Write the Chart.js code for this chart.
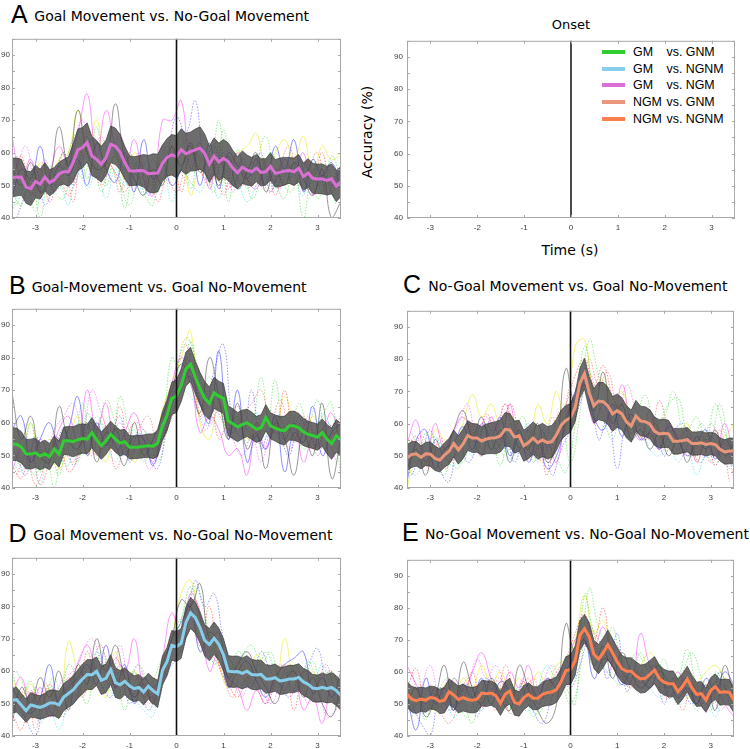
<!DOCTYPE html>
<html>
<head>
  <title>Decoding accuracy around onset</title>
  <script src="https://cdn.jsdelivr.net/npm/chart.js"></script>
  <style>
    body {
      margin: 0;
      width: 750px;
      height: 749px;
      position: relative;
      overflow: hidden;
      background: #ffffff;
      font-family: 'DejaVu Sans', sans-serif;
      color: #000000;
    }
    canvas { position: absolute; }
    .letter {
      position: absolute;
      font-family: 'Liberation Sans', Arial, sans-serif;
      font-size: 25px;
      line-height: 25px;
    }
    .title {
      position: absolute;
      font-size: 14px;
      line-height: 14px;
      white-space: nowrap;
    }
    .centered {
      position: absolute;
      white-space: nowrap;
      transform: translate(-50%, -50%);
    }
    #legend {
      position: absolute;
      left: 602px;
      top: 44px;
      font-family: 'Liberation Sans', Arial, sans-serif;
      font-size: 12.4px;
    }
    .row { display: flex; align-items: center; height: 16.6px; white-space: pre; }
    .swatch { width: 23px; height: 4px; margin-right: 8px; }
    .lead { display: inline-block; width: 33.5px; }
  </style>
</head>
<body>
  <div class="centered" style="left:571px; top:24px; font-size:13px;">Onset</div>
  <div class="centered" style="left:367px; top:132px; font-size:14px; transform: translate(-50%, -50%) rotate(-90deg);">Accuracy (%)</div>
  <div class="centered" style="left:570px; top:250px; font-size:14px;">Time (s)</div>
  <div id="legend"></div>

  <script>
    // time axis (s)
    const tMean = [-3.5,-3.4,-3.3,-3.2,-3.1,-3.0,-2.9,-2.8,-2.7,-2.6,
      -2.5,-2.4,-2.3,-2.2,-2.1,-2.0,-1.9,-1.8,-1.7,-1.6,
      -1.5,-1.4,-1.3,-1.2,-1.1,-1.0,-0.9,-0.8,-0.7,-0.6,
      -0.5,-0.4,-0.3,-0.2,-0.1,0.0,0.1,0.2,0.3,0.4,
      0.5,0.6,0.7,0.8,0.9,1.0,1.1,1.2,1.3,1.4,
      1.5,1.6,1.7,1.8,1.9,2.0,2.1,2.2,2.3,2.4,
      2.5,2.6,2.7,2.8,2.9,3.0,3.1,3.2,3.3,3.4,
      3.5];
    const tSubj = [-3.5,-3.3,-3.1,-2.9,-2.7,-2.5,-2.3,-2.1,-1.9,-1.7,
      -1.5,-1.3,-1.1,-0.9,-0.7,-0.5,-0.3,-0.1,0.1,0.3,
      0.5,0.7,0.9,1.1,1.3,1.5,1.7,1.9,2.1,2.3,
      2.5,2.7,2.9,3.1,3.3,3.5];
    const tSubj2 = [-3.4,-3.2,-3.0,-2.8,-2.6,-2.4,-2.2,-2.0,-1.8,-1.6,
      -1.4,-1.2,-1.0,-0.8,-0.6,-0.4,-0.2,0.0,0.2,0.4,
      0.6,0.8,1.0,1.2,1.4,1.6,1.8,2.0,2.2,2.4,
      2.6,2.8,3.0,3.2,3.4];
    const xTicks = [-3, -2, -1, 0, 1, 2, 3];
    const yTicks = [40, 45, 50, 55, 60, 65, 70, 75, 80, 85, 90, 95];

    // group mean accuracy (%)
    const meanA = [52.4,52.6,52.5,49.5,49.0,51.2,50.4,52.6,50.8,51.7,
      53.5,54.2,54.2,57.0,60.9,61.6,63.2,59.0,58.0,56.5,
      58.5,62.6,62.0,60.2,57.0,54.5,54.4,54.6,54.5,53.6,
      53.7,53.8,56.8,58.6,59.4,58.8,61.0,59.7,60.4,60.9,
      61.5,59.8,56.5,59.0,57.2,58.3,57.3,55.3,53.9,55.6,
      54.7,54.2,55.3,54.0,54.2,55.8,53.7,54.0,54.4,54.6,
      54.2,55.3,52.7,53.8,52.2,52.0,52.0,51.5,52.0,49.8,
      51.2];
    const meanB = [53.5,53.4,52.5,50.4,50.4,50.8,49.8,50.5,49.6,52.0,
      50.4,54.5,54.5,54.2,54.8,55.2,55.0,57.0,54.8,53.0,
      54.5,56.5,55.0,53.8,54.2,52.5,52.5,52.6,52.8,53.0,
      52.8,53.7,59.0,62.4,67.5,68.2,71.5,76.5,78.0,74.0,
      70.5,67.5,66.0,69.2,68.2,67.5,60.6,59.7,58.7,59.5,
      60.0,59.1,58.0,58.5,61.6,59.1,58.4,57.8,57.6,59.1,
      59.1,58.5,57.2,56.5,56.1,55.6,57.0,55.0,53.6,56.0,
      54.8];
    const meanC = [49.4,50.4,50.6,49.5,50.6,50.5,49.2,48.6,50.2,51.4,
      53.8,51.8,53.7,56.3,55.5,55.5,54.6,55.2,55.5,55.6,
      56.2,58.2,58.0,55.8,56.2,53.1,54.1,55.5,54.1,54.9,
      54.1,54.4,56.5,59.5,61.0,61.8,65.0,72.5,75.5,69.5,
      65.5,67.0,66.8,65.5,63.0,64.0,63.0,60.5,59.2,62.4,
      60.8,60.6,59.8,57.6,56.8,57.0,56.8,54.5,54.5,54.7,
      55.0,53.8,53.8,54.0,53.5,53.8,53.5,52.0,51.2,51.5,
      51.5];
    const meanD = [51.0,51.2,49.5,47.8,49.6,49.2,48.8,49.4,50.2,50.2,
      49.6,52.0,53.1,54.2,56.0,57.6,59.0,58.9,60.0,57.2,
      57.8,60.5,56.5,55.8,56.9,55.5,54.6,55.0,53.6,55.4,
      54.0,53.0,60.2,63.0,68.0,67.6,68.6,75.0,78.0,76.5,
      73.5,69.5,68.2,70.2,68.3,65.0,60.0,59.8,59.9,59.3,
      60.0,59.0,58.8,59.0,57.6,57.6,58.0,57.0,57.2,57.6,
      57.6,58.1,56.7,56.0,54.8,54.6,55.0,54.6,55.0,54.0,
      52.5];
    const meanE = [53.0,51.5,51.0,51.5,51.2,52.0,51.8,50.8,51.2,53.8,
      52.8,51.4,52.0,51.4,51.2,51.5,53.4,53.2,53.4,52.6,
      50.2,53.0,54.0,50.5,50.0,52.0,53.0,51.8,51.8,53.0,
      53.5,53.7,54.5,57.0,60.4,60.7,63.5,71.4,73.5,71.0,
      65.5,64.0,66.0,68.5,66.0,63.2,61.0,60.2,60.2,58.8,
      57.8,58.0,59.2,60.6,58.0,56.8,56.3,56.3,53.8,55.5,
      57.8,55.0,53.0,53.2,51.2,54.2,55.4,53.6,53.8,53.6,
      51.2];

    // half width of the shaded band
    const semA = [6.0,5.8,5.5,5.0,5.2,5.0,4.6,4.4,4.0,3.8,
      3.6,3.8,4.5,5.8,6.4,6.2,6.0,6.0,5.8,5.5,
      5.4,5.6,5.6,5.4,5.0,4.6,4.4,4.5,5.0,5.6,
      6.0,5.8,5.6,5.8,6.2,6.5,6.4,6.3,6.0,6.4,
      6.5,6.0,5.6,5.6,5.8,5.8,5.8,5.4,5.0,5.0,
      4.6,4.4,4.2,4.2,4.0,4.2,4.2,4.4,4.2,4.0,
      4.2,4.2,4.2,4.4,4.6,4.5,4.6,4.4,4.6,4.8,
      4.6];
    const semB = [5.0,5.0,4.8,4.5,4.6,4.5,4.2,4.2,4.0,4.0,
      4.0,4.2,4.4,4.6,4.6,4.5,4.5,4.6,4.4,4.2,
      4.2,4.0,4.0,4.0,3.8,3.6,3.5,3.5,3.5,3.6,
      3.8,4.0,4.4,4.8,5.0,5.0,5.0,5.2,5.2,5.0,
      5.0,5.2,5.0,4.8,4.6,4.6,4.6,4.6,4.5,4.4,
      4.2,4.2,4.0,4.0,4.0,4.0,4.0,4.2,4.4,4.4,
      4.5,4.4,4.2,4.0,4.0,4.0,4.2,4.5,4.8,5.0,
      5.0];
    const semC = [4.0,4.0,3.8,3.6,3.6,3.8,3.8,3.6,3.8,4.0,
      4.2,4.4,4.6,4.6,4.5,4.4,4.4,4.6,4.8,5.0,
      5.0,5.2,5.2,5.0,4.8,4.8,5.0,5.0,5.2,5.2,
      5.0,5.0,4.8,4.6,4.6,4.4,4.4,4.6,4.8,5.0,
      5.4,5.8,6.0,5.8,5.4,5.2,5.0,5.0,5.0,4.8,
      4.6,4.6,4.5,4.4,4.4,4.4,4.2,4.0,4.0,3.8,
      3.8,3.6,3.6,3.6,3.6,3.5,3.5,3.6,3.8,4.0,
      4.0];
    const semD = [4.0,3.8,3.6,3.6,3.8,3.6,3.6,3.8,4.0,4.0,
      4.2,4.2,4.2,4.4,4.4,4.6,4.6,4.6,4.4,4.4,
      4.4,4.6,4.6,4.4,4.2,4.2,4.0,4.0,4.0,4.0,
      4.0,4.2,4.4,4.4,4.6,4.6,4.6,4.8,4.8,4.8,
      4.8,4.8,5.0,5.0,5.0,5.0,4.8,4.8,4.8,4.8,
      4.8,4.6,4.6,4.4,4.4,4.2,4.2,4.2,4.2,4.2,
      4.2,4.2,4.2,4.2,4.2,4.2,4.4,4.4,4.6,4.6,
      4.6];
    const semE = [4.0,4.0,4.0,3.8,3.8,3.6,3.6,3.8,4.0,4.0,
      4.0,4.2,4.2,4.0,4.0,4.0,4.0,4.0,3.8,3.8,
      3.8,4.0,4.0,4.0,3.8,3.8,3.6,3.6,3.6,3.8,
      4.0,4.0,4.0,4.2,4.4,4.6,4.6,4.6,4.4,4.4,
      4.4,4.6,4.6,4.6,4.4,4.4,4.2,4.2,4.2,4.4,
      4.4,4.4,4.4,4.2,4.2,4.0,4.0,4.0,4.0,4.0,
      4.0,4.0,3.8,3.8,3.8,4.0,4.0,4.0,4.0,4.0,
      4.0];

    // single-subject traces on tSubj, one per row
    const subjA = [
      [55,50,57,48,52,68,56,73,60,55,57,75,58,52,47,55,50,62,56,63,54,58,50,59,49,54,60,48,55,50,57,52,47,55,40,45],
      [50,59,47,55,45,52,47,55,65,52,57,54,48,55,50,58,52,62,48,60,55,50,62,49,57,52,50,58,47,55,50,57,52,60,48,55],
      [48,44,54,40,56,49,60,66,52,68,50,59,43,57,48,44,62,55,66,49,62,51,70,45,61,49,57,65,52,46,57,40,55,48,59,52],
      [46,55,52,62,50,56,53,58,50,63,55,51,60,48,64,52,57,50,55,62,50,63,49,60,56,52,58,50,62,55,64,48,58,53,57,49],
      [42,49,45,52,47,51,44,57,49,54,46,55,50,58,47,53,56,45,55,51,48,53,46,58,52,45,50,55,49,56,52,47,58,50,55,48],
      [65,52,58,48,54,62,57,66,78,59,73,62,55,64,52,47,70,70,76,55,63,49,58,54,60,52,49,56,51,58,54,60,47,53,50,56],
      [58,54,50,57,52,58,60,73,60,70,55,59,52,60,55,50,58,53,62,47,57,59,51,56,60,62,66,55,60,64,58,65,53,62,58,60]
    ];
    const subjB = [
      [69,55,62,50,48,65,55,52,60,48,57,53,47,60,50,55,62,70,78,72,63,80,68,55,66,52,57,46,60,55,44,57,50,66,43,55],
      [47,43,52,41,48,55,45,49,57,50,59,46,53,60,58,52,55,63,70,76,62,70,55,61,65,58,56,60,57,70,55,62,52,58,55,63],
      [53,47,60,45,52,44,57,48,63,57,67,60,52,58,48,55,60,80,75,85,70,74,66,58,62,54,60,57,73,55,60,52,56,62,66,42],
      [58,62,48,55,60,52,58,68,50,60,53,58,50,56,55,47,58,68,72,74,66,60,82,55,70,48,56,52,62,45,57,54,65,50,57,60],
      [48,45,51,41,55,50,47,60,52,62,55,48,57,52,58,50,56,65,70,68,62,59,64,57,61,58,63,55,59,62,58,60,56,63,58,53],
      [45,52,48,55,50,58,62,54,70,58,66,51,57,63,55,48,60,72,80,74,57,62,58,50,52,44,60,52,58,55,60,48,56,58,63,52],
      [57,52,60,48,55,46,53,62,50,56,48,58,55,48,52,50,64,72,80,88,60,55,66,58,62,55,60,57,58,68,60,54,62,57,56,60]
    ];
    const subjC = [
      [46,52,44,55,50,58,64,56,62,52,58,48,56,52,60,48,54,77,66,72,64,76,60,66,55,58,52,57,50,55,48,56,52,58,50,54],
      [52,56,48,53,46,50,55,60,52,58,53,66,58,50,55,44,62,66,75,80,72,78,68,62,57,60,55,67,58,52,56,50,55,47,54,43],
      [55,48,57,50,44,53,48,58,50,55,47,60,52,56,48,58,50,45,60,84,70,62,55,66,58,62,56,60,66,68,58,62,55,66,57,52],
      [42,55,58,46,52,54,59,52,60,56,62,50,58,48,55,46,50,60,70,74,62,58,66,56,63,55,57,52,59,55,50,54,58,49,55,50],
      [48,44,52,56,50,47,55,50,58,52,56,49,54,60,52,58,55,62,66,72,65,68,62,58,55,60,52,50,55,48,52,44,50,47,52,46],
      [54,61,48,60,52,58,62,56,50,62,55,66,52,58,50,54,48,62,68,72,60,66,58,72,60,55,64,52,60,55,58,48,54,50,60,48],
      [40,50,47,58,55,52,60,69,62,66,60,63,56,52,66,60,70,58,84,86,70,74,66,70,60,56,62,58,52,55,60,48,57,54,56,60]
    ];
    const subjD = [
      [44,55,50,58,52,60,48,62,56,70,60,68,58,52,56,50,62,70,82,80,87,70,72,58,62,66,60,55,50,57,60,52,58,50,46,56],
      [47,42,54,48,56,50,58,52,66,58,62,55,60,52,58,50,55,72,66,76,68,80,62,56,52,58,55,50,56,62,48,60,55,58,60,52],
      [60,52,57,48,55,50,62,57,50,64,55,58,48,60,52,57,64,68,76,86,74,66,70,58,66,62,58,66,60,55,62,58,63,56,60,54],
      [55,50,47,52,62,50,55,58,62,56,68,55,62,50,58,55,60,70,75,80,66,72,68,55,60,63,57,52,58,62,64,66,53,58,52,60],
      [50,46,52,44,48,42,52,60,56,66,58,52,56,52,48,46,62,66,72,78,70,68,64,60,57,55,62,59,55,60,54,58,56,62,55,50],
      [53,58,48,55,46,52,56,62,68,60,57,64,60,70,55,52,64,78,70,84,77,60,66,58,55,48,54,50,58,54,60,48,52,44,55,50],
      [58,52,56,50,54,46,69,60,54,58,52,66,56,60,52,56,58,70,84,88,76,72,62,55,63,57,65,60,56,70,58,55,60,54,58,56]
    ];
    const subjE = [
      [50,55,46,52,62,48,63,55,50,58,52,48,62,55,48,44,50,75,66,70,62,68,58,66,60,55,58,62,52,55,58,50,56,48,62,52],
      [55,61,48,53,50,56,52,60,49,54,58,47,52,58,50,55,60,64,72,78,70,80,62,58,55,60,57,55,52,58,60,54,50,57,55,49],
      [48,52,45,55,50,58,52,44,55,50,54,48,56,50,47,52,58,55,50,84,72,66,74,62,58,66,60,62,55,58,67,56,52,60,55,48],
      [52,42,58,50,55,48,56,52,58,50,57,54,50,56,52,58,55,60,66,70,58,64,62,56,60,58,55,60,57,52,55,50,58,54,60,56],
      [47,50,55,48,52,46,50,54,48,57,52,56,50,48,55,62,58,63,68,74,66,62,58,56,62,58,55,52,54,50,55,48,52,46,56,52],
      [62,56,50,55,48,58,54,60,66,58,52,60,55,62,52,58,56,62,70,72,68,74,64,60,57,72,62,58,55,60,54,52,48,56,50,46],
      [55,50,52,48,56,52,58,55,62,56,60,54,58,52,60,56,62,64,70,84,72,76,66,60,58,62,66,60,55,58,52,56,60,62,58,55]
    ];
    // more single-subject traces (dotted) on tSubj2
    const extraA = [
      [40,48,55,44,52,60,50,58,64,52,62,56,50,58,47,55,60,71,66,76,58,62,55,50,58,53,60,48,55,52,58,50,56,47,53],
      [59,52,47,56,50,60,45,62,58,50,56,48,60,52,55,45,52,48,56,60,52,58,47,55,50,57,52,48,56,62,50,55,60,48,54],
      [44,50,42,55,48,46,58,52,60,48,55,50,44,53,57,48,63,58,52,60,55,48,67,50,57,46,52,60,55,48,52,57,46,50,44],
      [56,62,50,58,48,55,62,70,60,65,58,66,52,60,50,56,62,58,64,60,57,52,60,48,55,50,58,53,49,56,52,58,50,55,47]
    ];
    const extraB = [
      [50,44,56,48,52,58,47,55,60,52,56,62,48,54,50,46,60,70,80,72,64,76,84,60,56,70,52,58,55,50,62,57,53,60,55],
      [44,50,41,47,56,52,48,55,50,62,55,65,50,58,62,54,58,66,74,78,70,66,60,57,62,66,70,60,67,58,55,62,52,58,60],
      [56,49,44,52,40,58,52,66,55,60,52,68,57,50,55,48,58,75,86,80,66,70,62,57,64,60,74,58,62,55,66,60,67,55,62],
      [52,46,55,50,58,62,66,58,70,63,56,60,52,57,46,50,60,76,84,70,58,62,66,55,50,56,48,58,62,52,57,60,50,55,48]
    ];
    const extraC = [
      [44,50,58,46,42,55,48,53,60,52,57,48,55,50,58,44,52,58,66,75,55,62,46,60,58,55,62,50,57,60,52,48,56,50,46],
      [55,50,46,56,48,52,60,55,63,58,66,56,52,58,48,62,55,72,70,80,72,76,65,62,58,55,60,54,58,52,50,56,48,58,42],
      [57,52,48,54,50,46,56,52,60,55,50,58,62,48,55,50,60,48,63,86,75,66,60,58,62,69,60,62,70,58,54,60,56,66,50],
      [50,56,52,48,55,60,66,54,62,58,66,60,54,50,57,52,58,64,70,76,66,62,60,72,64,56,60,55,58,50,56,52,60,54,50]
    ];
    const extraD = [
      [52,45,40,50,46,54,50,58,62,56,52,60,50,56,48,54,60,64,72,88,80,84,70,62,58,55,66,60,56,52,58,62,67,55,50],
      [48,55,42,56,50,46,58,52,62,68,56,62,54,58,50,55,62,70,76,82,70,66,58,52,62,56,60,54,62,58,60,52,57,62,48],
      [60,54,46,52,58,48,55,62,57,66,60,52,58,62,55,50,66,72,80,86,78,62,68,60,65,68,62,66,58,60,55,63,58,60,52],
      [50,46,55,48,52,58,60,66,70,62,55,68,58,62,52,56,60,74,78,82,72,64,60,56,52,60,55,50,56,62,58,50,55,46,48]
    ];
    const extraE = [
      [50,44,40,55,48,52,56,46,58,52,55,50,57,48,44,52,58,55,62,70,66,58,72,54,60,56,62,50,58,55,50,56,52,60,50],
      [60,52,55,48,44,50,58,52,56,48,62,54,50,58,52,56,60,62,66,74,70,64,60,58,56,62,60,55,58,48,56,52,57,50,58],
      [46,52,48,55,58,50,46,54,50,56,52,48,54,46,52,58,56,50,60,86,74,68,64,60,66,62,58,64,56,60,66,58,48,60,52],
      [48,55,62,52,58,50,55,64,58,62,56,52,58,50,56,62,58,60,66,70,64,60,68,58,55,60,62,57,52,58,56,50,54,48,52]
    ];
    const subjColors = ['rgba(40,40,40,0.6)', 'rgba(255,40,40,0.65)', 'rgba(40,220,40,0.65)', 'rgba(40,40,255,0.65)',
      'rgba(40,220,230,0.65)', 'rgba(250,60,250,0.65)', 'rgba(235,235,30,0.75)'];
    const subjDash = [[], [1.5, 1.5], [1.5, 1.5], [], [1.5, 1.5], [], []];
    const extraColors = ['rgba(60,60,255,0.65)', 'rgba(255,60,60,0.65)', 'rgba(60,220,60,0.65)', 'rgba(240,70,240,0.65)'];

    // panel headings and legend
    const panelLetters = ['A', 'B', 'C', 'D', 'E'];
    const panelTitles = ['Goal Movement vs. No-Goal Movement', 'Goal-Movement vs. Goal No-Movement',
      'No-Goal Movement vs. Goal No-Movement', 'Goal Movement vs. No-Goal No-Movement',
      'No-Goal Movement vs. No-Goal No-Movement'];
    const legendLead = ['GM', 'GM', 'GM', 'NGM', 'NGM'];
    const legendRest = ['vs. GNM', 'vs. NGNM', 'vs. NGM', 'vs. GNM', 'vs. NGNM'];
    const legendColors = ['#32cd32', '#87ceeb', '#da70d6', '#e9967a', '#ff7f50'];

    const tickFont = { family: "'Liberation Sans', Arial, sans-serif", size: 8 };

    // frame, inner tick marks and the onset line
    const framePlugin = {
      id: 'frame',
      afterDatasetsDraw(chart, args, opts) {
        const { ctx, chartArea: a, scales: { x, y } } = chart;
        ctx.save();
        const x0 = x.getPixelForValue(0);
        ctx.strokeStyle = opts.zeroColor;
        ctx.lineWidth = opts.zeroWidth;
        ctx.beginPath();
        ctx.moveTo(x0, a.top);
        ctx.lineTo(x0, a.bottom);
        ctx.stroke();

        ctx.strokeStyle = '#a8a8a8';
        ctx.lineWidth = 1;
        ctx.strokeRect(a.left + 0.5, a.top + 0.5, a.right - a.left - 1, a.bottom - a.top - 1);
        ctx.beginPath();
        x.ticks.forEach(t => {
          const px = Math.round(x.getPixelForValue(t.value)) + 0.5;
          ctx.moveTo(px, a.bottom); ctx.lineTo(px, a.bottom - 3);
          ctx.moveTo(px, a.top); ctx.lineTo(px, a.top + 3);
        });
        y.ticks.forEach(t => {
          const py = Math.round(y.getPixelForValue(t.value)) + 0.5;
          ctx.moveTo(a.left, py); ctx.lineTo(a.left + 3, py);
          ctx.moveTo(a.right, py); ctx.lineTo(a.right - 3, py);
        });
        ctx.stroke();
        ctx.restore();
      }
    };

    const makeChart = (box, datasets, zeroColor, zeroWidth) => {
      const yw = box.left > 300 ? 22 : 12;
      const pt = 6, pr = 3, xh = 18;
      const canvas = document.createElement('canvas');
      canvas.width = box.width + yw + pr;
      canvas.height = box.height + pt + xh;
      canvas.style.left = (box.left - yw) + 'px';
      canvas.style.top = (box.top - pt) + 'px';
      document.body.appendChild(canvas);

      return new Chart(canvas.getContext('2d'), {
        type: 'line',
        data: { datasets },
        options: {
          responsive: false,
          animation: false,
          devicePixelRatio: 1,
          events: [],
          layout: { padding: { top: pt, right: pr, left: 0, bottom: 0 } },
          elements: { point: { radius: 0 } },
          scales: {
            x: {
              type: 'linear',
              min: -3.5,
              max: 3.5,
              afterBuildTicks: s => { s.ticks = xTicks.map(v => ({ value: v })); },
              afterFit: s => { s.height = xh; },
              grid: { display: false, drawTicks: false },
              border: { display: false },
              ticks: { font: tickFont, color: '#404040', padding: 5, autoSkip: false, maxRotation: 0 },
            },
            y: {
              min: 40,
              max: 95,
              afterBuildTicks: s => { s.ticks = yTicks.map(v => ({ value: v })); },
              afterFit: s => { s.width = yw; },
              grid: { display: false, drawTicks: false },
              border: { display: false },
              ticks: {
                font: tickFont,
                color: '#404040',
                padding: yw > 12 ? 4 : 2,
                autoSkip: false,
                callback: v => (v % 10 === 0 ? v : ''),
              },
            },
          },
          plugins: {
            legend: { display: false },
            tooltip: { enabled: false },
            frame: { zeroColor, zeroWidth },
          },
        },
        plugins: [framePlugin],
      });
    };

    const panelDatasets = (mean, sem, subj, extra, color) => {
      const sets = [
        {
          data: tMean.map((t, i) => ({ x: t, y: mean[i] })),
          borderColor: color,
          borderWidth: 3,
          order: 0,
        },
        {
          data: tMean.map((t, i) => ({ x: t, y: mean[i] - sem[i] })),
          borderColor: 'rgba(50,50,50,0.8)',
          borderWidth: 0.8,
          order: 1,
        },
        {
          data: tMean.map((t, i) => ({ x: t, y: mean[i] + sem[i] })),
          borderColor: 'rgba(50,50,50,0.8)',
          borderWidth: 0.8,
          backgroundColor: 'rgba(68,68,68,0.78)',
          fill: '-1',
          order: 1,
        },
      ];
      subj.forEach((vals, k) => {
        sets.push({
          data: tSubj.map((t, i) => ({ x: t, y: vals[i] })),
          borderColor: subjColors[k],
          borderWidth: 0.8,
          borderDash: subjDash[k],
          tension: 0.45,
          order: 2,
        });
      });
      extra.forEach((vals, k) => {
        sets.push({
          data: tSubj2.map((t, i) => ({ x: t, y: vals[i] })),
          borderColor: extraColors[k],
          borderWidth: 0.8,
          borderDash: [1.5, 1.5],
          tension: 0.45,
          order: 2,
        });
      });
      return sets;
    };

    const panels = [
      { box: { left: 12, top: 38, width: 329, height: 180 }, mean: meanA, sem: semA, subj: subjA, extra: extraA,
        color: '#da70d6', head: { letterLeft: 11, textLeft: 34.3, base: 20.5 } },
      { box: { left: 12, top: 308, width: 329, height: 180 }, mean: meanB, sem: semB, subj: subjB, extra: extraB,
        color: '#32cd32', head: { letterLeft: 9, textLeft: 31.7, base: 291.5 } },
      { box: { left: 407, top: 308, width: 327, height: 180 }, mean: meanC, sem: semC, subj: subjC, extra: extraC,
        color: '#e9967a', head: { letterLeft: 403, textLeft: 428.3, base: 290.5 } },
      { box: { left: 12, top: 557, width: 329, height: 179 }, mean: meanD, sem: semD, subj: subjD, extra: extraD,
        color: '#87ceeb', head: { letterLeft: 8.5, textLeft: 33.3, base: 539.5 } },
      { box: { left: 407, top: 557, width: 327, height: 179 }, mean: meanE, sem: semE, subj: subjE, extra: extraE,
        color: '#ff7f50', head: { letterLeft: 402, textLeft: 425, base: 539 } },
    ];

    panels.forEach((p, i) => {
      makeChart(p.box, panelDatasets(p.mean, p.sem, p.subj, p.extra, p.color), '#111111', 1.6);

      // the big letter sits a little below the title baseline
      const letter = document.createElement('div');
      letter.className = 'letter';
      letter.textContent = panelLetters[i];
      letter.style.left = p.head.letterLeft + 'px';
      letter.style.top = (p.head.base + 2.5 - 21.2) + 'px';
      document.body.appendChild(letter);

      const title = document.createElement('div');
      title.className = 'title';
      title.textContent = panelTitles[i];
      title.style.left = p.head.textLeft + 'px';
      title.style.top = (p.head.base - 11.84) + 'px';
      document.body.appendChild(title);
    });

    // empty onset axes that hold the legend
    makeChart({ left: 407, top: 38, width: 328, height: 180 }, [{ data: [] }], '#4a4a4a', 2);

    const legend = document.getElementById('legend');
    legendColors.forEach((c, i) => {
      const row = document.createElement('div');
      row.className = 'row';
      row.innerHTML = '<span class="swatch" style="background:' + c + '"></span>' +
        '<span class="lead">' + legendLead[i] + '</span>' + legendRest[i];
      legend.appendChild(row);
    });
  </script>
</body>
</html>
